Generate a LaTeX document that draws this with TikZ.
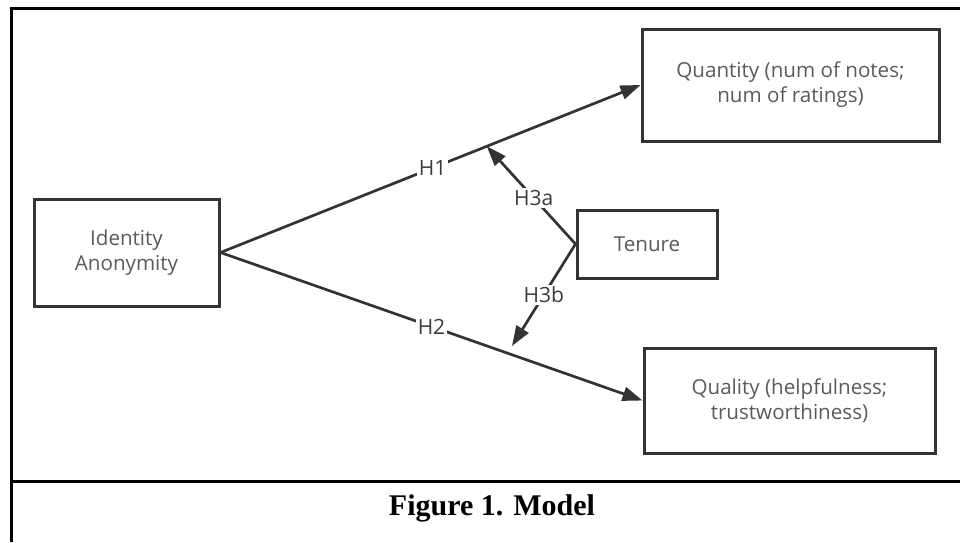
\documentclass[tikz,border=0pt]{standalone}
\usepackage{fontspec}
\setmainfont{Open Sans}
\newfontfamily\captionfont{Liberation Serif}
\usetikzlibrary{arrows.meta,calc}
\definecolor{boxline}{HTML}{333333}
\definecolor{boxtext}{HTML}{5A5A5A}
\definecolor{labeltext}{HTML}{3C3C3C}
\tikzset{
  varbox/.style={draw=boxline, line width=1.5pt, rectangle, align=center,
    text=boxtext, font=\fontsize{10.3}{12.5}\selectfont, inner sep=0pt},
  link/.style={draw=boxline, line width=1.35pt,
    -{Triangle[length=10pt,width=7pt]}},
  hyp/.style={fill=white, text=labeltext, inner sep=1pt,
    font=\fontsize{10.5}{12}\selectfont},
  frameline/.style={line width=1.5pt, black}
}
\begin{document}
\begin{tikzpicture}[x=0.5pt, y=-0.5pt]
  \useasboundingbox (0,0) rectangle (960,542);
  % table frame and caption row
  \draw[frameline] (11,542) -- (11,8) -- (960,8);
  \draw[frameline] (11,481) -- (960,481);
  \node[font=\captionfont\bfseries\fontsize{15}{18}\selectfont] (cap) at (492,508) {Figure 1. Model};

  % variables
  \node[varbox, minimum width=92.5pt, minimum height=53.5pt] (ident) at (126.5,252.5) {Identity\\Anonymity};
  \node[varbox, minimum width=148.5pt, minimum height=56pt] (quant) at (790.5,85) {Quantity (num of notes;\\num of ratings)};
  \node[varbox, minimum width=145.5pt, minimum height=52.5pt] (qual) at (789.5,400.5) {Quality (helpfulness;\\trustworthiness)};
  \node[varbox, minimum width=70pt, minimum height=34pt] (ten) at (647,244) {Tenure};

  % main effects
  \draw[link] (ident.east) -- node[hyp, pos=0.505] (h1) {H1} (quant.west);
  \draw[link] (ident.east) -- node[hyp, pos=0.5] (h2) {H2} (qual.west);

  % moderation
  \coordinate (m1) at ($(ident.east)!0.634!(quant.west)$);
  \coordinate (m2) at (512,346);
  \draw[link] (ten.west) -- node[hyp, pos=0.47] (h3a) {H3a} (m1);
  \draw[link] (ten.west) -- node[hyp, pos=0.5] (h3b) {H3b} (m2);
\end{tikzpicture}
\end{document}
